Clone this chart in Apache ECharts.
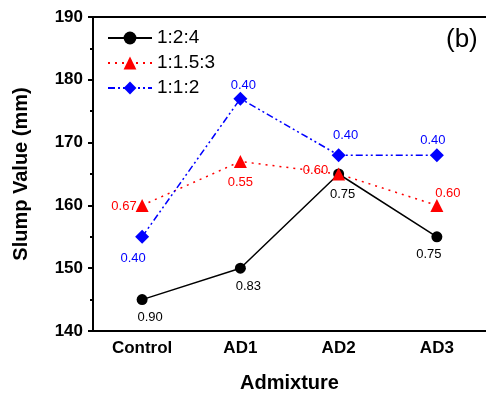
<!DOCTYPE html>
<html><head><meta charset="utf-8">
<script src="https://cdn.jsdelivr.net/npm/echarts@6/dist/echarts.min.js"></script>
<style>html,body{margin:0;padding:0;background:#fff}#c{width:486px;height:398px}</style>
</head><body><div id="c"></div>
<script>
const categories = ['Control', 'AD1', 'AD2', 'AD3'];
const mix124 = [145, 150, 165, 155];
const mix11553 = [160, 167, 165, 160];
const mix112 = [155, 177, 168, 168];
const wc124 = ['0.90', '0.83', '0.75', '0.75'];
const wc11553 = ['0.67', '0.55', '0.60', '0.60'];
const wc112 = ['0.40', '0.40', '0.40', '0.40'];
const yTicks = [140, 150, 160, 170, 180, 190];

const F = 'Arial, "Liberation Sans", sans-serif';
function mk(vals, labels, color, posCfg) {
  return vals.map((v, i) => ({
    value: v,
    label: Object.assign({show: true, formatter: labels[i], color: color, fontSize: 13, fontFamily: F}, posCfg[i])
  }));
}
const chart = echarts.init(document.getElementById('c'), null, {renderer: 'canvas'});
const option = {
  animation: false,
  backgroundColor: '#fff',
  grid: {left: 93, top: 17, width: 397, height: 319},
  legend: {
    left: 102, top: 23, orient: 'vertical', itemWidth: 44, itemHeight: 16, itemGap: 5,
    textStyle: {fontSize: 19, fontFamily: F, color: '#000', lineHeight: 20},
    data: ['1:2:4', '1:1.5:3', '1:1:2']
  },
  graphic: [{type: 'text', left: 446, top: 27, style: {text: '(b)', font: '26px Arial, "Liberation Sans", sans-serif', fill: '#000'}}],
  xAxis: [{
    type: 'category', data: categories, position: 'bottom',
    name: 'Admixture', nameLocation: 'middle', nameGap: 42,
    nameTextStyle: {fontSize: 20, fontWeight: 'bold', fontFamily: F, color: '#000'},
    axisLine: {lineStyle: {color: '#000', width: 2}},
    axisTick: {alignWithLabel: true, length: 5, lineStyle: {color: '#000', width: 2}},
    axisLabel: {fontSize: 17, fontWeight: 'bold', fontFamily: F, color: '#000', margin: 9},
    splitLine: {show: false}
  }, {
    type: 'category', data: categories, position: 'bottom', gridIndex: 0,
    axisLine: {show: false},
    axisTick: {length: 3, lineStyle: {color: '#000', width: 2}},
    axisLabel: {show: false}, splitLine: {show: false}
  }, {
    type: 'category', data: categories, position: 'top',
    axisLine: {lineStyle: {color: '#000', width: 2}},
    axisTick: {inside: true, length: 3, lineStyle: {color: '#000', width: 2}},
    axisLabel: {show: false}, splitLine: {show: false}
  }],
  yAxis: {
    type: 'value', min: yTicks[0], max: yTicks[yTicks.length - 1], interval: 10,
    name: 'Slump Value (mm)', nameLocation: 'middle', nameGap: 62,
    nameTextStyle: {fontSize: 20, fontWeight: 'bold', fontFamily: F, color: '#000'},
    axisLine: {show: true, lineStyle: {color: '#000', width: 2}},
    axisTick: {show: true, length: 5, lineStyle: {color: '#000', width: 2}},
    minorTick: {show: true, splitNumber: 2, length: 3, lineStyle: {color: '#000', width: 2}},
    axisLabel: {fontSize: 17, fontWeight: 'bold', fontFamily: F, color: '#000', margin: 10},
    splitLine: {show: false}
  },
  series: [{
    name: '1:2:4', type: 'line', symbol: 'circle', symbolSize: 11,
    itemStyle: {color: '#000'}, lineStyle: {color: '#000', width: 1.5, type: 'solid'},
    data: mk(mix124, wc124, '#000', [
      {position: 'bottom', distance: 6, offset: [8, 0]}, {position: 'bottom', distance: 6, offset: [8, 0]},
      {position: 'bottom', distance: 6, offset: [4, 2]}, {position: 'bottom', distance: 6, offset: [-8, 0]}])
  }, {
    name: '1:1.5:3', type: 'line', symbol: 'triangle', symbolSize: 13,
    itemStyle: {color: '#ff0000'}, lineStyle: {color: '#ff0000', width: 1.5, type: [2, 5]},
    data: mk(mix11553, wc11553, '#ff0000', [
      {position: 'left', distance: -1, offset: [0, 1]}, {position: 'bottom', distance: 8},
      {position: 'left', distance: 6, offset: [2, -4]}, {position: 'top', distance: 0, offset: [11, 1]}])
  }, {
    name: '1:1:2', type: 'line', symbol: 'diamond', symbolSize: 14,
    itemStyle: {color: '#0000ff'}, lineStyle: {color: '#0000ff', width: 1.5, type: [7, 3, 2, 3, 2, 3]},
    data: mk(mix112, wc112, '#0000ff', [
      {position: 'bottom', distance: 8, offset: [-9, 0]}, {position: 'top', distance: 0, offset: [3, 0]},
      {position: 'top', distance: 6, offset: [7, 0]}, {position: 'top', distance: 1, offset: [-4, 0]}])
  }]
};
chart.setOption(option);
</script></body></html>
